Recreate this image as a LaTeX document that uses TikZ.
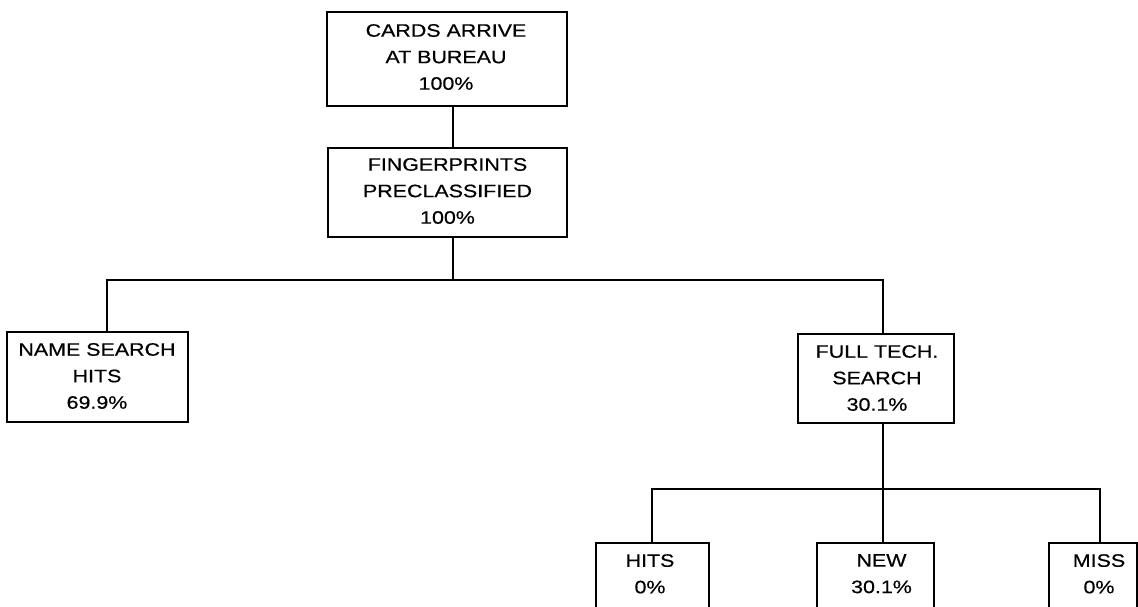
\documentclass[tikz,border=0pt]{standalone}
\usepackage{fontspec}
\setmainfont{Liberation Sans}[FakeStretch=1.19,FakeBold=0.5]
\begin{document}
\begin{tikzpicture}[x=1pt,y=-1pt,
  bx/.style={draw, line width=2.1pt, inner sep=0pt},
  txt/.style={inner sep=0pt, align=center, font=\fontsize{18}{26.5}\selectfont},
  conn/.style={line width=2.1pt}]
\useasboundingbox (0,0) rectangle (1138,606);
\clip (0,0) rectangle (1138,606);
% boxes
\node[bx, minimum width=240pt, minimum height=94pt] (b1) at (447,59) {};
\node[txt] at (446,57) {CARDS ARRIVE\\AT BUREAU\\100\%};
\node[bx, minimum width=239pt, minimum height=89pt] (b2) at (447.5,192.5) {};
\node[txt] at (447.5,191) {FINGERPRINTS\\PRECLASSIFIED\\100\%};
\node[bx, minimum width=181pt, minimum height=90pt] (name) at (97.5,377) {};
\node[txt] at (97,376) {NAME SEARCH\\HITS\\69.9\%};
\node[bx, minimum width=156pt, minimum height=89pt] (full) at (876,378.5) {};
\node[txt] at (877,378) {FULL TECH.\\SEARCH\\30.1\%};
\node[bx, minimum width=113pt, minimum height=110pt] (hits) at (652.5,598) {};
\node[txt, anchor=north] at (650,554) {HITS\\0\%};
\node[bx, minimum width=117pt, minimum height=110pt] (new) at (875.5,598) {};
\node[txt, anchor=north] at (881.5,554) {NEW\\30.1\%};
\node[bx, minimum width=88pt, minimum height=110pt] (miss) at (1093,598) {};
\node[txt, anchor=north] at (1099,554) {MISS\\0\%};
% junctions
\coordinate (t1) at (453,280);
\coordinate (tL) at (107,280);
\coordinate (tR) at (883,280);
\coordinate (t2) at (883,489);
\coordinate (t2L) at (652,489);
\coordinate (t2R) at (1100,489);
% connectors
\draw[conn] (b1.south -| t1) -- (b2.north -| t1);
\draw[conn] (b2.south -| t1) -- (t1);
\draw[conn] (name.north -| tL) -- (tL) -- (tR) -- (full.north -| tR);
\draw[conn] (full.south -| t2) -- (t2);
\draw[conn] (hits.north -| t2L) -- (t2L) -- (t2R) -- (miss.north -| t2R);
\draw[conn] (new.north -| t2) -- (t2);
\end{tikzpicture}
\end{document}
